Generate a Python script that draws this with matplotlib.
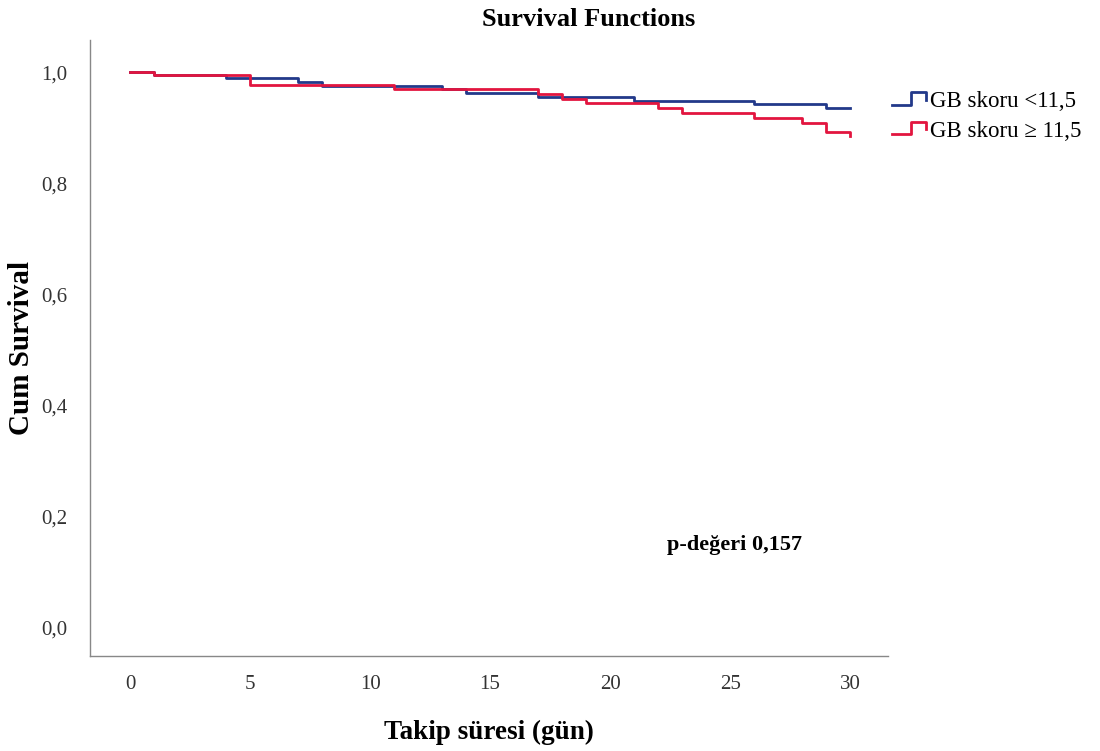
import matplotlib
matplotlib.use("Agg")
import matplotlib.pyplot as plt
from matplotlib.lines import Line2D
from matplotlib.legend_handler import HandlerBase

# Kaplan-Meier step data
blue_days = [0, 1, 4, 7, 8, 13, 14, 17, 21, 26, 29, 30]
blue_surv = [1.0, 0.995, 0.989, 0.982, 0.975, 0.969, 0.963, 0.955, 0.948, 0.943, 0.935, 0.935]
red_days = [0, 1, 5, 11, 17, 18, 19, 22, 23, 26, 28, 29, 30]
red_surv = [1.0, 0.995, 0.977, 0.969, 0.960, 0.952, 0.945, 0.936, 0.927, 0.917, 0.909, 0.8925, 0.885]

labels = ["GB skoru <11,5", "GB skoru \u2265 11,5"]
colors = ["#22398a", "#e2153f"]
x_ticks = [0, 5, 10, 15, 20, 25, 30]
y_ticks = [0.0, 0.2, 0.4, 0.6, 0.8, 1.0]
p_text = "p-de\u011feri 0,157"

serif = "Liberation Serif"


# step shaped legend icon like SPSS
class StepHandler(HandlerBase):
    def create_artists(self, legend, orig_handle, xdescent, ydescent,
                       width, height, fontsize, trans):
        x0 = -xdescent
        y0 = -ydescent
        xs = [x0, x0 + 0.55 * width, x0 + 0.55 * width, x0 + width, x0 + width]
        ys = [y0 + 0.15 * height, y0 + 0.15 * height, y0 + 0.9 * height,
              y0 + 0.9 * height, y0 + 0.45 * height]
        ln = Line2D(xs, ys, color=orig_handle.get_color(),
                    linewidth=orig_handle.get_linewidth(), transform=trans)
        return [ln]


fig = plt.figure(figsize=(11, 7.51), dpi=100)
ax = fig.add_axes([0.0818, 0.1265, 0.7255, 0.8202])

l1, = ax.step(blue_days, blue_surv, where="post", color=colors[0], linewidth=2.0)
l2, = ax.step(red_days, red_surv, where="post", color=colors[1], linewidth=2.0)

ax.set_xlim(-1.67, 31.58)
ax.set_ylim(-0.052, 1.058)
ax.set_xticks(x_ticks)
ax.set_yticks(y_ticks)
ax.set_yticklabels([("%.1f" % v).replace(".", ",") for v in y_ticks])
ax.tick_params(length=0, labelsize=15, colors="#333333")
ax.tick_params(axis="x", pad=14)
ax.tick_params(axis="y", pad=16)
for lab in ax.get_xticklabels() + ax.get_yticklabels():
    lab.set_fontfamily(serif)

for s in ["top", "right"]:
    ax.spines[s].set_visible(False)
for s in ["left", "bottom"]:
    ax.spines[s].set_color("#888888")
    ax.spines[s].set_linewidth(1.0)

fig.text(0.535, 0.974, "Survival Functions", fontfamily=serif, fontweight="bold",
         fontsize=19, ha="center", va="center")
ax.set_xlabel("Takip s\u00fcresi (g\u00fcn)", fontfamily=serif, fontweight="bold",
              fontsize=19.5, labelpad=18)
ax.set_ylabel("Cum Survival", fontfamily=serif, fontweight="bold", fontsize=21)
ax.yaxis.set_label_coords(-0.069, 0.5)

ax.text(25.2, 0.148, p_text, fontfamily=serif, fontweight="bold",
        fontsize=16, ha="center", va="center")

fig.legend([l1, l2], labels, handler_map={Line2D: StepHandler()},
           loc="upper left", bbox_to_anchor=(0.811, 0.879), frameon=False,
           borderpad=0, borderaxespad=0,
           prop={"family": serif, "size": 16.5}, handlelength=1.5,
           handletextpad=0.15, labelspacing=0.38)

fig.savefig("out.png", dpi=100)
